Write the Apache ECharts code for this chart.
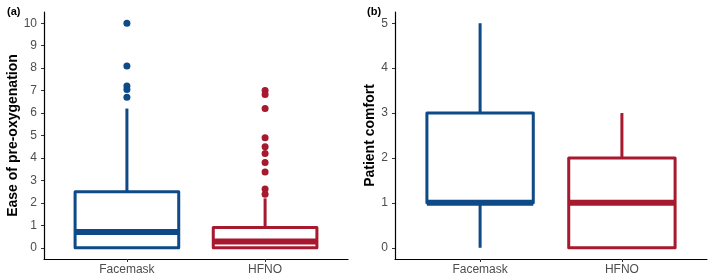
<!DOCTYPE html>
<html>
<head>
<meta charset="utf-8">
<script src="https://cdn.jsdelivr.net/npm/echarts@6/dist/echarts.min.js"></script>
<style>
  html, body { margin: 0; padding: 0; background: #fff; }
  #chart { width: 709px; height: 279px; }
</style>
</head>
<body>
<div id="chart"></div>
<script>
// groups on the x axis (positions 1 and 2)
const groups = ['Facemask', 'HFNO'];
const colors = ['#0d4a87', '#a6192e'];

// (a) ease of pre-oxygenation: [x, min, Q1, median, Q3, max]
const easeBoxes = [
  [1, 0, 0, 0.7, 2.5, 6.2],
  [2, 0, 0, 0.28, 0.9, 2.2]
];
const easeOutliersFacemask = [10, 8.1, 7.2, 7.05, 6.7];
const easeOutliersHFNO = [7.0, 6.83, 6.2, 4.9, 4.5, 4.2, 3.8, 3.38, 2.62, 2.38];

// (b) patient comfort
const comfortBoxes = [
  [1, 0, 1, 1, 3, 5],
  [2, 0, 0, 1, 2, 3]
];

const yTicksA = [0, 1, 2, 3, 4, 5, 6, 7, 8, 9, 10];
const yTicksB = [0, 1, 2, 3, 4, 5];

const font = 'Liberation Sans';
const boxHalf = 0.375;

function renderBox(params, api) {
  const x = api.value(0);
  const mn = api.value(1), q1 = api.value(2), med = api.value(3), q3 = api.value(4), mx = api.value(5);
  const color = colors[params.dataIndex];
  const tl = api.coord([x - boxHalf, q3]);
  const br = api.coord([x + boxHalf, q1]);
  const cTop = api.coord([x, mx]);
  const cQ3 = api.coord([x, q3]);
  const cQ1 = api.coord([x, q1]);
  const cBot = api.coord([x, mn]);
  const mL = api.coord([x - boxHalf, med]);
  const mR = api.coord([x + boxHalf, med]);
  const lineStyle = { stroke: color, lineWidth: 3, fill: null };
  return {
    type: 'group',
    children: [
      { type: 'line', shape: { x1: cTop[0], y1: cTop[1], x2: cQ3[0], y2: cQ3[1] }, style: lineStyle },
      { type: 'line', shape: { x1: cQ1[0], y1: cQ1[1], x2: cBot[0], y2: cBot[1] }, style: lineStyle },
      { type: 'rect', shape: { x: tl[0], y: tl[1], width: br[0] - tl[0], height: br[1] - tl[1] },
        style: { stroke: color, lineWidth: 3, fill: '#fff', lineJoin: 'round' } },
      { type: 'line', shape: { x1: mL[0], y1: mL[1], x2: mR[0], y2: mR[1] },
        style: { stroke: color, lineWidth: 6 } }
    ]
  };
}

function xAxis(gridIndex) {
  return {
    type: 'value', gridIndex, min: 0.4, max: 2.6,
    splitLine: { show: false },
    axisLine: { show: true, onZero: false, lineStyle: { color: '#000', width: 1.2 } },
    axisTick: { show: true, length: 3, customValues: [1, 2], lineStyle: { color: '#333' } },
    axisLabel: {
      customValues: [1, 2], margin: 5, color: '#4d4d4d', fontSize: 12, fontFamily: font,
      formatter: v => groups[Math.round(v) - 1] || ''
    }
  };
}

function yAxis(gridIndex, name, min, max, ticks, gap) {
  return {
    type: 'value', gridIndex, min, max, name,
    nameLocation: 'middle', nameGap: gap,
    nameTextStyle: { color: '#000', fontSize: 14, fontWeight: 'bold', fontFamily: font },
    splitLine: { show: false },
    axisLine: { show: true, onZero: false, lineStyle: { color: '#000', width: 1.2 } },
    axisTick: { show: true, length: 3, customValues: ticks, lineStyle: { color: '#333' } },
    axisLabel: { customValues: ticks, margin: 7, color: '#4d4d4d', fontSize: 12, fontFamily: font }
  };
}

const chart = echarts.init(document.getElementById('chart'), null, { renderer: 'canvas' });
chart.setOption({
  animation: false,
  backgroundColor: '#fff',
  title: [
    { text: '(a)', left: 2, top: 1, textStyle: { fontSize: 11, fontWeight: 'bold', fontFamily: font, color: '#000' } },
    { text: '(b)', left: 362, top: 1, textStyle: { fontSize: 11, fontWeight: 'bold', fontFamily: font, color: '#000' } }
  ],
  grid: [
    { left: 44, top: 12, width: 304, height: 247 },
    { left: 395, top: 12, width: 312, height: 247 }
  ],
  xAxis: [xAxis(0), xAxis(1)],
  yAxis: [
    yAxis(0, 'Ease of pre-oxygenation', -0.5, 10.5, yTicksA, 20),
    yAxis(1, 'Patient comfort', -0.25, 5.25, yTicksB, 17)
  ],
  series: [
    { type: 'custom', xAxisIndex: 0, yAxisIndex: 0, renderItem: renderBox, data: easeBoxes,
      encode: { x: 0, y: [1, 2, 3, 4, 5] } },
    { type: 'scatter', xAxisIndex: 0, yAxisIndex: 0, symbolSize: 7,
      itemStyle: { color: colors[0], opacity: 1 }, data: easeOutliersFacemask.map(v => [1, v]) },
    { type: 'scatter', xAxisIndex: 0, yAxisIndex: 0, symbolSize: 7,
      itemStyle: { color: colors[1], opacity: 1 }, data: easeOutliersHFNO.map(v => [2, v]) },
    { type: 'custom', xAxisIndex: 1, yAxisIndex: 1, renderItem: renderBox, data: comfortBoxes,
      encode: { x: 0, y: [1, 2, 3, 4, 5] } }
  ]
});
</script>
</body>
</html>
